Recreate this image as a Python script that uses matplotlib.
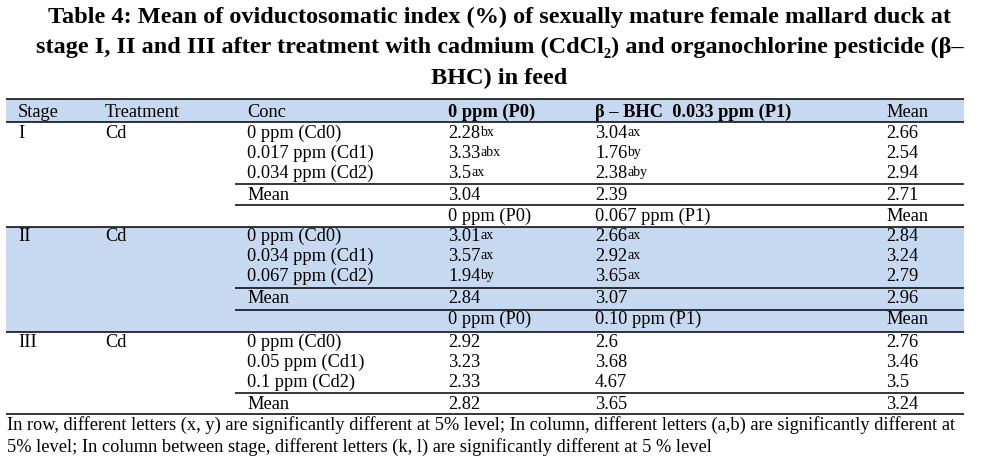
import matplotlib
matplotlib.use("Agg")
import matplotlib.pyplot as plt
from matplotlib.patches import Rectangle

# ---------------- data ----------------
title_lines = [
    "Table 4: Mean of oviductosomatic index (%) of sexually mature female mallard duck at",
    "stage I, II and III after treatment with cadmium (CdCl\u2082) and organochlorine pesticide (\u03b2\u2013",
    "BHC) in feed",
]
header = ["Stage", "Treatment", "Conc", "0 ppm (P0)", "\u03b2 \u2013 BHC  0.033 ppm (P1)", "Mean"]
stages = ["I", "II", "III"]
treatments = ["Cd", "Cd", "Cd"]
conc_labels = [
    ["0 ppm (Cd0)", "0.017 ppm (Cd1)", "0.034 ppm (Cd2)"],
    ["0 ppm (Cd0)", "0.034 ppm (Cd1)", "0.067 ppm (Cd2)"],
    ["0 ppm (Cd0)", "0.05 ppm (Cd1)", "0.1 ppm (Cd2)"],
]
p0_vals = [[2.28, 3.33, 3.5], [3.01, 3.57, 1.94], [2.92, 3.23, 2.33]]
p0_sup = [["bx", "abx", "ax"], ["ax", "ax", "by"], ["", "", ""]]
p1_vals = [[3.04, 1.76, 2.38], [2.66, 2.92, 3.65], [2.6, 3.68, 4.67]]
p1_sup = [["ax", "by", "aby"], ["ax", "ax", "ax"], ["", "", ""]]
row_means = [[2.66, 2.54, 2.94], [2.84, 3.24, 2.79], [2.76, 3.46, 3.5]]
col_means = [[3.04, 2.39, 2.71], [2.84, 3.07, 2.96], [2.82, 3.65, 3.24]]
subheaders = [["0 ppm (P0)", "0.067 ppm (P1)", "Mean"],
              ["0 ppm (P0)", "0.10 ppm (P1)", "Mean"]]
footnote = [
    "In row, different letters (x, y) are significantly different at 5% level; In column, different letters (a,b) are significantly different at",
    "5% level; In column between stage, different letters (k, l) are significantly different at 5 % level",
]

# ---------------- layout ----------------
W, H = 987, 468
FONT = ["Liberation Serif", "DejaVu Serif"]
BLUE = "#c6d9f1"
FS = 13.2
SUPFS = 10.0
TFS = 17.5

fig = plt.figure(figsize=(W / 100, H / 100), dpi=100)
ax = fig.add_axes([0, 0, 1, 1])
ax.set_xlim(0, W)
ax.set_ylim(H, 0)
ax.axis("off")

col_x = [18, 105, 247, 448, 595, 886]
x_left, x_right, x_sub = 6, 964, 235


def txt(x, y, s, bold=False, size=FS, ha="left"):
    return ax.text(x, y, s, fontsize=size, family=FONT, ha=ha, va="baseline",
                   fontweight="bold" if bold else "normal", color="black")


def val(x, y, v, sup=""):
    t = txt(x, y, f"{v:g}")
    if sup:
        ax.annotate(sup, xy=(1.0, 0.95), xycoords=t, fontsize=SUPFS, family=FONT,
                    ha="left", va="top", color="black")
    return t


def hline(y, x0=x_left, x1=x_right):
    ax.plot([x0, x1], [y, y], color="black", lw=1.1, solid_capstyle="butt")


# title
title_base = [22.7, 53.0, 84.0]
for i, line in enumerate(title_lines):
    txt(W / 2 + 6, title_base[i], line, bold=True, size=TFS, ha="center")

# backgrounds
ax.add_patch(Rectangle((x_left, 99), x_right - x_left, 22.5, color=BLUE, lw=0))
ax.add_patch(Rectangle((x_left, 226.5), x_right - x_left, 105.3, color=BLUE, lw=0))

# header
for j, h in enumerate(header):
    txt(col_x[j], 116.7, h, bold=(j in (3, 4)))

# blocks
block_base = [137.7, 240.7, 346.7]
for b in range(3):
    y0 = block_base[b]
    txt(col_x[0], y0, stages[b])
    txt(col_x[1], y0, treatments[b])
    for r in range(3):
        y = y0 + 20.3 * r
        txt(col_x[2], y, conc_labels[b][r])
        val(col_x[3], y, p0_vals[b][r], p0_sup[b][r])
        val(col_x[4], y, p1_vals[b][r], p1_sup[b][r])
        val(col_x[5], y, row_means[b][r])
    ym = y0 + 62.3
    txt(col_x[2], ym, "Mean")
    for k in range(3):
        val(col_x[3 + k], ym, col_means[b][k])
    if b < 2:
        ys = ym + 21.2
        for k in range(3):
            txt(col_x[3 + k], ys, subheaders[b][k])

# lines
hline(99)
hline(121.5)
hline(183.5, x_sub)
hline(204.5, x_sub)
hline(226.5)
hline(288.3, x_sub)
hline(309.8, x_sub)
hline(331.8)
hline(392.8, x_sub)
hline(414)

# footnote
for i, line in enumerate(footnote):
    txt(7, 430 + 21.7 * i, line)

fig.savefig("out.png", dpi=100)
